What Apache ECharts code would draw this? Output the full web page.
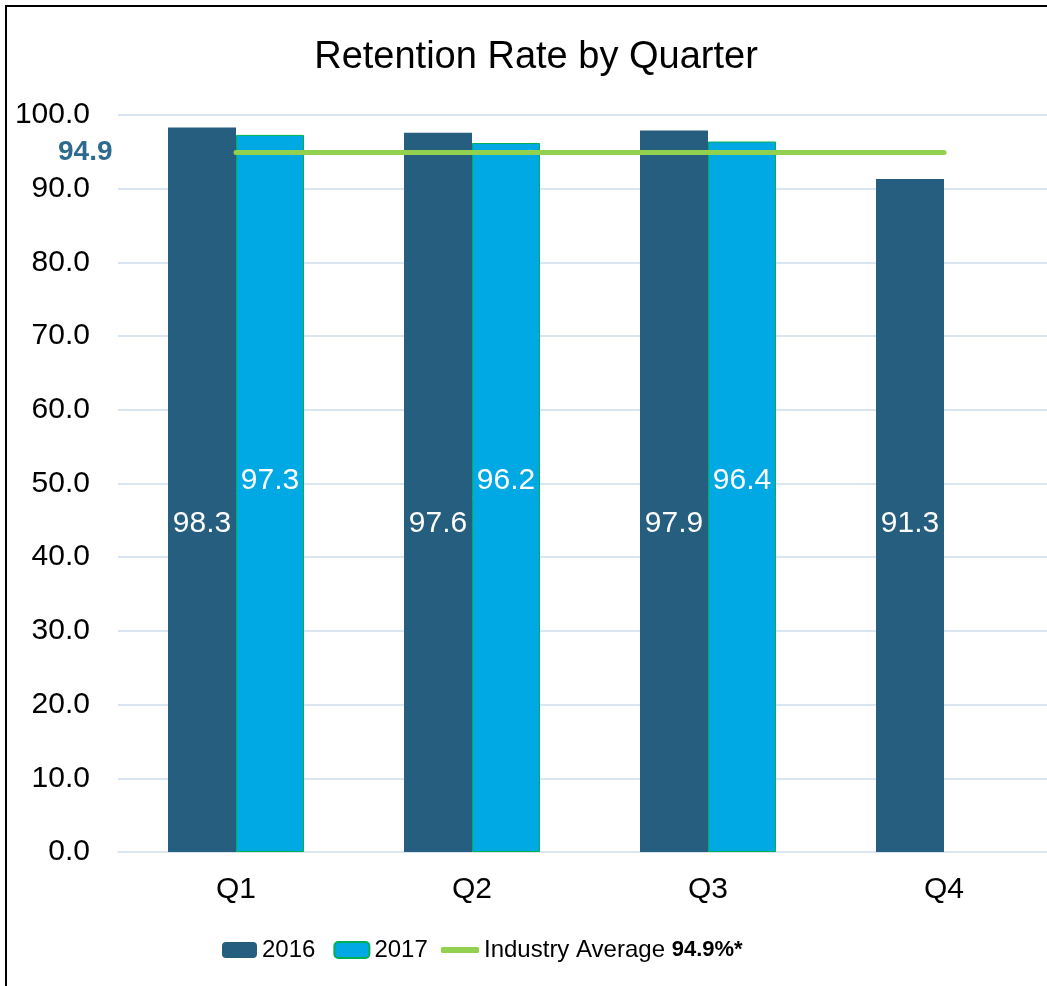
<!DOCTYPE html>
<html>
<head>
<meta charset="utf-8">
<script src="https://cdn.jsdelivr.net/npm/echarts@6/dist/echarts.min.js"></script>
<style>
  html, body { margin: 0; padding: 0; background: #fff; overflow: hidden; }
  #main { width: 1062px; height: 986px; }
</style>
</head>
<body>
<div id="main"></div>
<script>
// data
var quarters = ['Q1', 'Q2', 'Q3', 'Q4'];
var rate2016 = [98.3, 97.6, 97.9, 91.3];
var rate2017 = [97.3, 96.2, 96.4, null];
var industryAvg = [94.9, 94.9, 94.9, 94.9];

var myChart = echarts.init(document.getElementById('main'));

var barLabel = function (dist) {
	return {
		show: true,
		position: 'insideBottom',
		distance: dist,
		color: '#fff',
		fontSize: 30,
		fontFamily: 'Liberation Sans, Arial, sans-serif',
		formatter: function (p) { return p.value.toFixed(1); }
	};
};

var legendText = {
	fontSize: 24,
	color: '#000',
	rich: {
		b: { fontSize: 22, fontWeight: 'bold' }
	}
};

var option = {
	animation: false,
	backgroundColor: '#fff',
	textStyle: { fontFamily: 'Liberation Sans, Arial, sans-serif' },
	title: {
		text: 'Retention Rate by Quarter',
		left: 531,
		textAlign: 'center',
		top: 34,
		textStyle: { fontSize: 38, fontWeight: 'normal', color: '#000' }
	},
	graphic: [{
		type: 'rect',
		shape: { x: 6, y: 6, width: 1200, height: 1200 },
		style: { fill: 'none', stroke: '#000', lineWidth: 2 },
		silent: true
	}],
	legend: [
		{
			left: 217,
			top: 933,
			itemWidth: 35,
			itemHeight: 16,
			itemGap: 18,
			textStyle: legendText,
			data: ['2016', '2017']
		},
		{
			left: 436,
			top: 933,
			itemWidth: 38,
			itemHeight: 6,
			icon: 'roundRect',
			textStyle: legendText,
			formatter: function (name) { return name + ' {b|94.9%*}'; },
			data: ['Industry Average']
		}
	],
	grid: { left: 118, right: 0, top: 115, bottom: 134 },
	xAxis: {
		type: 'category',
		data: quarters,
		axisLine: { lineStyle: { color: '#D9E6F2', width: 2 } },
		axisTick: { show: false },
		axisLabel: { color: '#000', fontSize: 30, margin: 23 }
	},
	yAxis: {
		type: 'value',
		min: 0,
		max: 100,
		interval: 10,
		axisLine: { show: false },
		axisTick: { show: false },
		splitLine: { lineStyle: { color: '#D9E6F2', width: 2 } },
		axisLabel: {
			color: '#000',
			fontSize: 30,
			margin: 28,
			formatter: function (v) { return v.toFixed(1); }
		}
	},
	series: [
		{
			name: '2016',
			type: 'bar',
			data: rate2016,
			barWidth: 68,
			barGap: '0%',
			itemStyle: { color: '#255E7E' },
			label: barLabel(313)
		},
		{
			name: '2017',
			type: 'bar',
			data: rate2017,
			barWidth: 68,
			itemStyle: { color: '#00A9E4', borderColor: '#00B050', borderWidth: 1 },
			label: barLabel(356)
		},
		{
			name: 'Industry Average',
			type: 'line',
			data: industryAvg,
			symbol: 'none',
			z: 5,
			lineStyle: { color: '#92D050', width: 5, cap: 'round' },
			itemStyle: { color: '#92D050' },
			markPoint: {
				symbol: 'circle',
				symbolSize: 1,
				itemStyle: { color: 'rgba(0,0,0,0)' },
				label: {
					show: true,
					position: 'left',
					distance: 123,
					color: '#2E6A8E',
					fontSize: 28,
					fontWeight: 'bold',
					formatter: function (p) { return p.value.toFixed(1); }
				},
				data: [{ coord: [quarters[0], industryAvg[0]], value: industryAvg[0] }]
			}
		}
	]
};

myChart.setOption(option);
</script>
</body>
</html>
